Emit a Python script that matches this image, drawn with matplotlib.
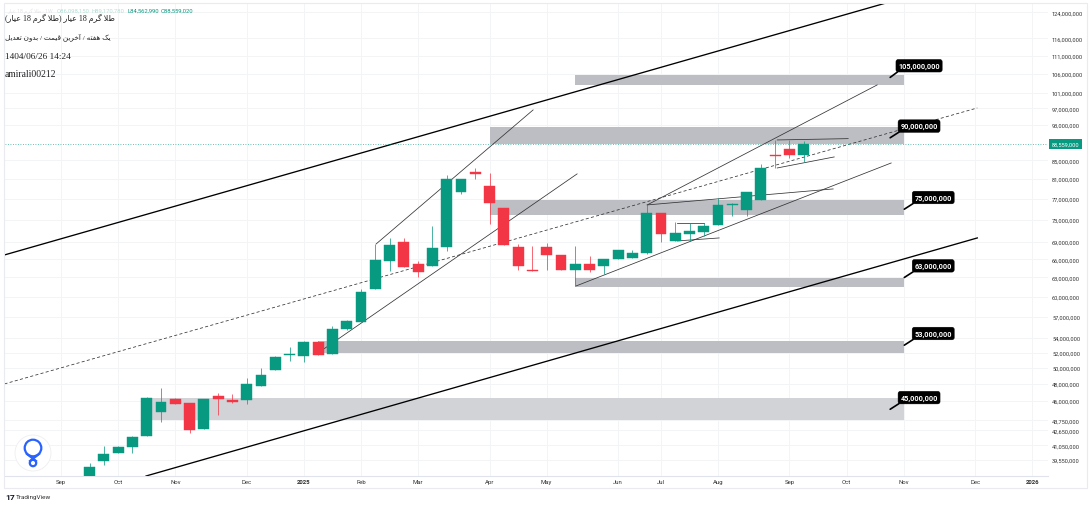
import re
import unicodedata
import matplotlib
matplotlib.use('Agg')
import matplotlib.pyplot as plt
from matplotlib.patches import Circle, Rectangle

# weekly candles, prices in millions, week 0 = first Sep tick
first_week = 2
opens = [37.67,39.44,40.26,40.87,42.04,44.70,46.21,45.74,42.80,46.56,46.09,46.09,47.76,49.75,51.63,51.56,53.44,51.83,55.24,56.24,
         61.18,65.71,68.98,65.21,64.88,68.10,78.38,82.48,79.58,75.24,68.10,64.23,68.10,66.73,64.23,65.21,64.88,66.05,66.22,67.07,
         74.29,69.16,70.41,70.77,72.05,75.82,74.86,76.79,86.20,87.47,86.098]
highs = [39.24,40.97,40.95,42.04,46.45,47.52,46.33,45.74,46.25,46.92,46.80,48.75,50.01,51.50,52.78,53.50,53.58,55.66,56.53,61.18,
         68.62,69.69,69.69,65.71,71.85,81.85,81.02,83.32,82.27,75.30,68.62,68.27,68.80,66.80,68.27,66.56,65.00,67.65,67.59,76.01,
         74.35,72.60,72.42,72.42,77.19,76.10,78.45,84.17,89.50,89.50,89.171]
lows = [37.48,39.04,40.26,40.26,42.04,43.58,45.56,42.37,42.80,44.35,45.74,45.62,47.76,49.75,50.91,50.78,51.65,51.83,55.10,56.24,
        61.18,64.06,64.66,63.09,64.88,67.41,77.99,81.02,72.23,68.45,64.23,63.98,64.23,64.23,61.66,63.90,63.58,65.98,66.22,66.90,
        68.98,69.16,69.16,70.05,71.96,73.72,73.72,76.79,83.32,85.48,84.563]
closes = [38.83,40.15,40.87,41.93,46.33,45.86,45.62,42.69,46.21,46.21,45.86,48.01,49.12,51.43,51.83,53.44,51.70,55.24,56.38,60.71,
          65.88,68.45,64.72,63.90,67.93,81.02,81.02,82.07,76.21,68.45,64.88,64.06,66.73,64.23,65.21,64.23,66.05,67.59,67.07,74.29,
          70.41,70.59,70.95,71.85,75.82,76.01,78.38,83.32,85.98,86.10,88.559]

# support / resistance zones: first week, last week, top, bottom
zone_start = [36, 30, 30, 36, 18, 6]
zone_end = [59.04, 59.04, 59.04, 59.04, 59.04, 59.04]
zone_top = [105.66, 92.5, 76.79, 62.93, 53.53, 46.33]
zone_bottom = [103.07, 88.5, 73.9, 61.41, 51.97, 43.74]
zone_colors = ['#bdbec3', '#bdbec3', '#bdbec3', '#bdbec3', '#bdbec3', '#d2d3d7']

# level callouts
level_values = [105, 90, 75, 63, 53, 45]
level_weeks = [58.05, 58.05, 59.04, 59.04, 59.04, 58.05]
level_labels = ['105,000,000', '90,000,000', '75,000,000', '63,000,000', '53,000,000', '45,000,000']

# trend lines: week0, price0, week1, price1
channel_lines = [(-3.96, 66.73, 57.77, 126.98), (5.95, 37.95, 64.15, 69.69)]
dashed_line = (-3.96, 48.01, 64.15, 97.12)
thin_lines = [(22.06, 68.63, 33.05, 96.63), (18, 51.97, 36.13, 82.07), (41.04, 75.82, 57.14, 103.0),
              (36.06, 61.65, 58.12, 84.39), (41.04, 75.82, 54.06, 78.98), (50.14, 89.50, 55.11, 89.8),
              (50.14, 83.32, 54.13, 85.7), (43.14, 72.42, 45.03, 72.42), (43.14, 69.16, 46.08, 69.69)]

y_ticks = [124, 116, 111, 106, 101, 97, 93, 85, 81, 77, 73, 69, 66, 63, 60, 57, 54, 52, 50, 48, 46, 43.75, 42.65, 41.05, 39.55]
x_ticks = [0, 4, 8, 13, 17, 21, 25, 30, 34, 39, 42, 46, 51, 55, 59, 64, 68]
x_labels = ['Sep', 'Oct', 'Nov', 'Dec', '2025', 'Feb', 'Mar', 'Apr', 'May', 'Jun', 'Jul', 'Aug', 'Sep', 'Oct', 'Nov', 'Dec', '2026']

green = '#089981'
red = '#f23645'


def shape(s):
    # matplotlib does no arabic shaping, so pick the joined forms and flip to visual order
    s = s.replace('لا', '\ufefb')
    no_left = 'اآدذرزژو\ufefb'
    isar = lambda c: '\u0620' <= c <= '\u06ff' or c == '\ufefb'
    out = []
    for i, c in enumerate(s):
        if not isar(c):
            out.append(c)
            continue
        prev = i > 0 and isar(s[i-1]) and s[i-1] not in no_left
        nxt = i < len(s)-1 and isar(s[i+1]) and c not in no_left
        if c == '\ufefb':
            out.append('\ufefc' if prev else c)
            continue
        form = 'MEDIAL' if prev and nxt else 'FINAL' if prev else 'INITIAL' if nxt else 'ISOLATED'
        out.append(unicodedata.lookup(unicodedata.name(c) + ' ' + form + ' FORM'))
    parts = re.findall(r'[0-9]+|.', ''.join(out))[::-1]
    return ''.join({'(': ')', ')': '('}.get(p, p) for p in parts)


plt.rcParams['font.family'] = ['Roboto', 'DejaVu Sans']
W, H = 1092, 506
fig = plt.figure(figsize=(W/100, H/100), dpi=100)
ax = fig.add_axes([4.5/W, 1-477/H, (1048-4.5)/W, (477-4.5)/H])
ax.set_yscale('log')
ax.set_xlim(-3.96, 69.1)
ax.set_ylim(37.95, 126.8)

ax.set_yticks(y_ticks)
ax.set_yticklabels([f'{int(v*1000):,},000' for v in y_ticks])
ax.minorticks_off()
ax.yaxis.tick_right()
ax.tick_params(axis='y', length=0, pad=2.9, labelsize=4.1, labelcolor='#333333')
ax.set_xticks(x_ticks)
ax.set_xticklabels(x_labels)
ax.tick_params(axis='x', length=0, pad=2.5, labelsize=4.3, labelcolor='#333333')
for t in ax.get_xticklabels():
    if t.get_text() in ('2025', '2026'):
        t.set_fontweight('bold')
ax.grid(True, color='#f3f4f6', lw=0.7)
ax.set_axisbelow(True)
for s in ['top', 'left', 'right']:
    ax.spines[s].set_visible(False)
ax.spines['bottom'].set_color('#e0e3eb')

for i in range(len(zone_start)):
    ax.fill_between([zone_start[i], zone_end[i]], zone_bottom[i], zone_top[i], color=zone_colors[i], lw=0, zorder=1)

for l in channel_lines:
    ax.plot([l[0], l[2]], [l[1], l[3]], color='black', lw=0.95, zorder=2)
ax.plot([dashed_line[0], dashed_line[2]], [dashed_line[1], dashed_line[3]], color='#333333', lw=0.55, ls=(0, (4, 3)), zorder=2)
for l in thin_lines:
    ax.plot([l[0], l[2]], [l[1], l[3]], color='#333333', lw=0.55, zorder=2)

ax.axhline(closes[-1], color=green, lw=0.6, ls=(0, (1, 2)), alpha=0.8, zorder=2)

weeks = [first_week+i for i in range(len(closes))]
cols = [green if c >= o else red for o, c in zip(opens, closes)]
ax.vlines(weeks, lows, highs, colors=cols, lw=0.7, alpha=0.75, zorder=3)
ax.bar(weeks, [abs(c-o) for o, c in zip(opens, closes)], bottom=[min(o, c) for o, c in zip(opens, closes)],
       width=0.76, color=cols, edgecolor=cols, lw=0.3, zorder=4)

for v, wk, lab in zip(level_values, level_weeks, level_labels):
    ax.annotate(lab, xy=(wk, v), xytext=(20.8, 8.4), textcoords='offset points', ha='center', va='center',
                color='white', fontsize=5.2, fontweight='bold', zorder=6,
                bbox=dict(boxstyle='round,pad=0.32', fc='black', ec='black', lw=0.3),
                arrowprops=dict(arrowstyle='-', color='black', lw=1.2, relpos=(0.08, 0.1), shrinkA=0, shrinkB=0))

ax.text(1.0035, closes[-1], f'{int(closes[-1]*1e6):,}', transform=ax.get_yaxis_transform(), color='white',
        fontsize=4.1, va='center', ha='left', zorder=7, clip_on=False,
        bbox=dict(boxstyle='square,pad=0.42', fc=green, ec=green, lw=0))

# everything that is not chart data goes on a pixel overlay
ov = fig.add_axes([0, 0, 1, 1], facecolor='none')
ov.set_xlim(0, W)
ov.set_ylim(H, 0)
ov.axis('off')
ov.add_patch(Rectangle((4, 4), 1083, 485, fill=False, ec='#e9ebf0', lw=0.8))

serif = ['Liberation Serif', 'DejaVu Sans']
ov.text(5, 18, shape('طلا گرم 18 عیار (طلا گرم 18 عیار)'), family=serif, fontsize=5.8, color='#222222', va='center')
ov.text(5, 37, shape('یک هفته / آخرین قیمت / بدون تعدیل'), family=serif, fontsize=5.2, color='#222222', va='center')
ov.text(5, 57, '1404/06/26 14:24', family=serif, fontsize=6.7, color='#222222', va='center')
ov.text(5, 74, 'amirali00212', family=serif, fontsize=6.9, color='#222222', va='center')

ov.text(53, 11, shape('طلا گرم 18 عیار') + ' · 1W', fontsize=3.8, color='#e4e4e8', va='center', ha='right')
ov.text(57, 11, 'O86,098,150', fontsize=4.2, color='#b5e0d6', va='center')
ov.text(92, 11, 'H89,170,780', fontsize=4.2, color='#b5e0d6', va='center')
ov.text(127, 11, 'L84,562,990', fontsize=4.2, color=green, va='center')
ov.text(161, 11, 'C88,559,020', fontsize=4.2, color=green, va='center')

# logo
ov.add_patch(Circle((33, 454), 18, fc='white', ec='#eeeeee', lw=0.6, zorder=8))
ov.add_patch(Circle((33, 449), 8.3, fc='none', ec='#2962ff', lw=1.6, zorder=9))
ov.add_patch(Circle((33, 464), 3.2, fc='none', ec='#2962ff', lw=1.6, zorder=9))
ov.plot([27, 36], [455, 462], color='#2962ff', lw=1.6, zorder=9)
ov.plot([39, 30], [455, 462], color='#2962ff', lw=1.6, zorder=9)

ov.text(5, 497.5, '17', fontsize=6, fontweight='bold', color='#131722', va='center')
ov.text(16, 497.5, 'TradingView', fontsize=4.6, color='#333333', va='center')

plt.savefig('out.png', dpi=100)
